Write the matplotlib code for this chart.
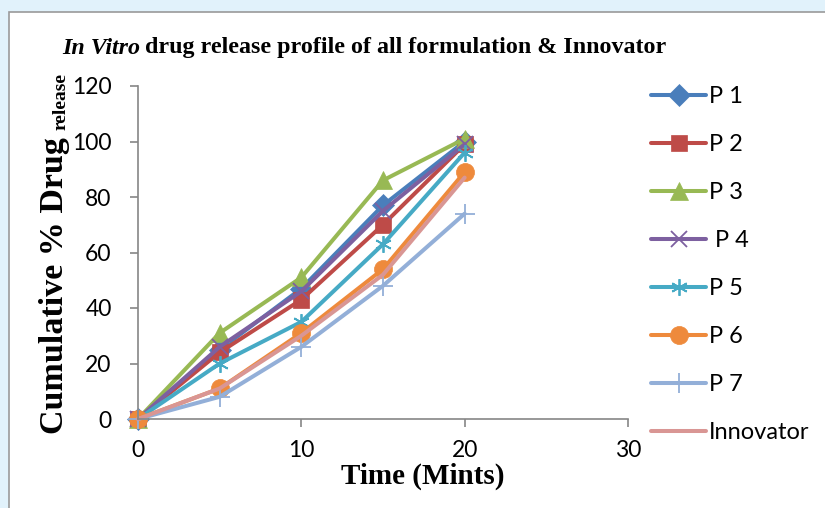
import matplotlib
matplotlib.use("Agg")
import matplotlib.pyplot as plt
from matplotlib.patches import Rectangle

# time points (minutes)
time = [0, 5, 10, 15, 20]

# cumulative % drug release
p1 = [0, 25, 47, 77, 100]
p2 = [0, 24, 43, 70, 99]
p3 = [0, 31, 51, 86, 101]
p4 = [0, 26, 46, 75, 99]
p5 = [0, 20, 35, 63, 96]
p6 = [0, 11, 31, 54, 89]
p7 = [0, 8, 26, 48, 74]
innovator = [0, 11, 30, 52, 87]

labels = ["P 1", "P 2", "P 3", " P 4", "P 5", "P 6", "P 7", "Innovator"]
series = [p1, p2, p3, p4, p5, p6, p7, innovator]

colors = ["#4A7EBB", "#BE4B48", "#98B954", "#7D60A0",
          "#46AAC5", "#EE8A3C", "#93AFD8", "#D99694"]
markers = ["D", "s", "^", "x", (6, 2, 0), "o", "+", None]
msizes = [11, 12, 13, 11, 12, 13, 14, 0]

tick_font = "Lato"
serif = "Liberation Serif"

fig = plt.figure(figsize=(8.25, 5.08), dpi=100)
fig.patch.set_facecolor("#E1F2FB")

# white chart area with grey frame
fig.patches.append(Rectangle((9 / 825, -0.1), 1.0, 1 - 12 / 508 + 0.1,
                             transform=fig.transFigure, facecolor="white",
                             edgecolor="#9A9A9A", linewidth=1.2, zorder=-10))

ax = fig.add_axes([138 / 825, 1 - 419 / 508, (628 - 138) / 825, (419 - 86) / 508])
ax.set_facecolor("none")

for y, lab, c, m, ms in zip(series, labels, colors, markers, msizes):
    thin = m in ("x", "+", (6, 2, 0))
    ax.plot(time, y, color=c, linewidth=2.9, marker=m, markersize=ms,
            markeredgewidth=1.3 if thin else 0.5,
            markeredgecolor=c, markerfacecolor=c,
            solid_capstyle="round", label=lab, clip_on=False)

ax.set_xlim(0, 30)
ax.set_ylim(0, 120)
ax.set_xticks([0, 10, 20, 30])
ax.set_yticks(range(0, 121, 20))
for s in ["top", "right"]:
    ax.spines[s].set_visible(False)
for s in ["left", "bottom"]:
    ax.spines[s].set_color("#868686")
    ax.spines[s].set_linewidth(1.2)
ax.tick_params(colors="#868686", width=1.2, length=6, labelcolor="black",
               labelsize=16.5)
ax.tick_params(axis="x", pad=9)
ax.tick_params(axis="y", pad=13)
for t in ax.get_xticklabels() + ax.get_yticklabels():
    t.set_fontfamily(tick_font)

# title: italic part + bold part
t1 = fig.text(62 / 825, 1 - 48 / 508, "In Vitro", fontfamily=serif,
              fontweight="bold", fontstyle="italic", fontsize=17.3,
              va="center", ha="left")
fig.canvas.draw()
bb = t1.get_window_extent()
fig.text((bb.x1 + 5) / 825, 1 - 48 / 508,
         "drug release profile of all formulation & Innovator",
         fontfamily=serif, fontweight="bold", fontsize=17.3,
         va="center", ha="left")

# y label
fig.text(54 / 825, 1 - 286 / 508, "Cumulative % Drug", fontfamily=serif,
         fontweight="bold", fontsize=24.5, rotation=90, ha="center", va="center")
fig.text(61 / 825, 1 - 102 / 508, "release", fontfamily=serif,
         fontweight="bold", fontsize=14, rotation=90, ha="center", va="center")

# x label
fig.text(423 / 825, 1 - 476 / 508, "Time (Mints)", fontfamily=serif,
         fontweight="bold", fontsize=21, ha="center", va="center")

leg = ax.legend(loc="upper left", bbox_to_anchor=(642 / 825, 1 - 77 / 508),
                bbox_transform=fig.transFigure, frameon=False,
                prop={"family": tick_font, "size": 17},
                handlelength=2.3, handletextpad=0.15, labelspacing=1.14,
                borderaxespad=0)

fig.savefig("out.png", dpi=100, facecolor=fig.get_facecolor())
